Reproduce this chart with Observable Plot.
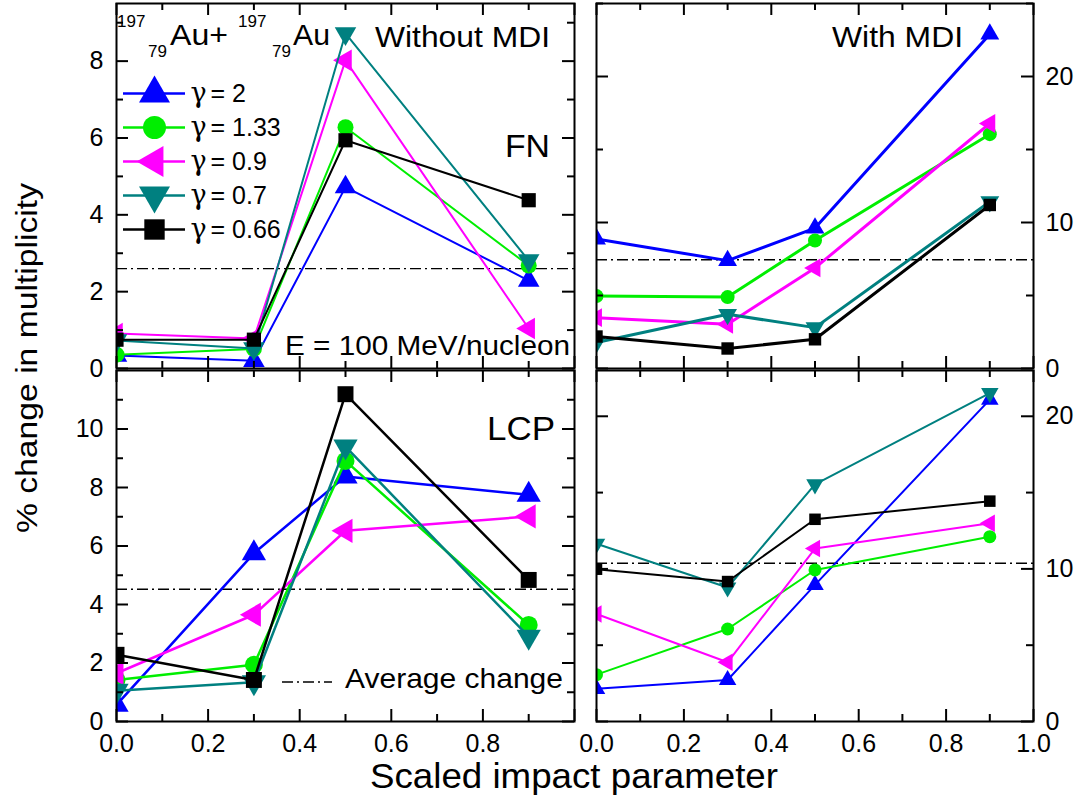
<!DOCTYPE html>
<html><head><meta charset="utf-8">
<script src="https://cdn.jsdelivr.net/npm/d3@7"></script>
<script src="https://cdn.jsdelivr.net/npm/@observablehq/plot@0.6"></script>
<style>
body{margin:0;background:#fff;font-family:"Liberation Sans",Arial,sans-serif;}
#root{position:relative;width:1086px;height:803px;overflow:hidden;background:#fff;}
.panel{position:absolute;}
.panel svg{overflow:visible;background:transparent;max-width:none;}
#overlay{position:absolute;left:0;top:0;pointer-events:none;}
</style></head><body><div id="root"></div>
<script>
// ---------------- data ----------------
const impact = [0, 0.3, 0.5, 0.9];
const gammaLabels = ["γ = 2", "γ = 1.33", "γ = 0.9", "γ = 0.7", "γ = 0.66"];
const seriesColors = ["#0000ff", "#00ee00", "#ff00ff", "#008080", "#000000"];

// FN, without MDI (rows: γ=2, 1.33, 0.9, 0.7, 0.66)
const fnWithout = [
  [0.34, 0.20, 4.72, 2.29],
  [0.36, 0.51, 6.28, 2.68],
  [0.91, 0.78, 8.02, 1.04],
  [0.73, 0.52, 8.72, 2.81],
  [0.75, 0.75, 5.94, 4.38]
];
// FN, with MDI
const fnWith = [
  [8.87, 7.39, 9.62, 22.9],
  [4.96, 4.89, 8.77, 16.05],
  [3.48, 3.03, 6.89, 16.78],
  [1.78, 3.71, 2.80, 11.43],
  [2.19, 1.37, 2.00, 11.20]
];
// LCP, without MDI
const lcpWithout = [
  [0.57, 5.75, 8.38, 7.75],
  [1.42, 1.94, 8.91, 3.30],
  [1.65, 3.65, 6.52, 7.01],
  [1.05, 1.34, 9.40, 2.90],
  [2.28, 1.42, 11.19, 4.84]
];
// LCP, with MDI
const lcpWith = [
  [2.14, 2.72, 8.95, 21.09],
  [3.07, 6.06, 9.93, 12.11],
  [7.04, 3.88, 11.33, 12.99],
  [11.65, 8.78, 15.54, 21.52],
  [9.98, 9.17, 13.25, 14.44]
];
// average change per panel: FN w/o, FN with, LCP w/o, LCP with
const averageChange = [2.6, 7.45, 4.52, 10.37];

const xMajorTicks = [0, 0.2, 0.4, 0.6, 0.8, 1.0];
const xMinorTicks = [0.1, 0.3, 0.5, 0.7, 0.9];
const xLabelsLeft = [0, 0.2, 0.4, 0.6, 0.8];
const xLabelsRight = [0, 0.2, 0.4, 0.6, 0.8, 1.0];
const yTicksFnWithout = [0, 2, 4, 6, 8];
const yMinorFnWithout = [1, 3, 5, 7, 9];
const yTicksLcpWithout = [0, 2, 4, 6, 8, 10];
const yMinorLcpWithout = [1, 3, 5, 7, 9, 11];
const yTicksWith = [0, 10, 20];
const yMinorFnWith = [5, 15, 25];
const yMinorLcpWith = [5, 15];

// ---------------- symbols ----------------
const sqrt3 = Math.sqrt(3);
const triUp = {draw(c, size) { const y = -Math.sqrt(size / (sqrt3 * 3)); c.moveTo(0, y * 2); c.lineTo(-sqrt3 * y, -y); c.lineTo(sqrt3 * y, -y); c.closePath(); }};
const triDown = {draw(c, size) { const y = -Math.sqrt(size / (sqrt3 * 3)); c.moveTo(0, -y * 2); c.lineTo(-sqrt3 * y, y); c.lineTo(sqrt3 * y, y); c.closePath(); }};
const triLeft = {draw(c, size) { const y = -Math.sqrt(size / (sqrt3 * 3)); c.moveTo(y * 2, 0); c.lineTo(-y, sqrt3 * y); c.lineTo(-y, -sqrt3 * y); c.closePath(); }};
const seriesSymbols = [triUp, d3.symbolCircle, triLeft, triDown, d3.symbolSquare];

const root = document.getElementById("root");
const FONT = "Liberation Sans, Arial, sans-serif";

function panel(cfg) {
  const {data, avg, yDomain, yMajor, yMinor, side, xLabels, r, sw, left, top, width, height, mL, mR, mT, mB} = cfg;
  const W = width - mL - mR, H = height - mT - mB;
  const marks = [];
  marks.push(Plot.ruleY([avg], {y: d => d, stroke: "#000", strokeWidth: 1.4, strokeDasharray: "11,4,2,4"}));
  data.forEach((vals, s) => {
    const pts = vals.map((v, i) => ({x: impact[i], y: v}));
    marks.push(Plot.line(pts, {x: "x", y: "y", stroke: seriesColors[s], strokeWidth: sw, clip: "frame"}));
    marks.push(Plot.dot(pts, {x: "x", y: "y", fill: seriesColors[s], stroke: "none", symbol: seriesSymbols[s], r, clip: "frame"}));
  });
  const MJ = 12, MN = 7;
  // inward ticks on all four sides
  marks.push(Plot.tickY(yMajor, {y: d => d, insetRight: W - MJ, strokeWidth: 2}));
  marks.push(Plot.tickY(yMajor, {y: d => d, insetLeft: W - MJ, strokeWidth: 2}));
  marks.push(Plot.tickY(yMinor, {y: d => d, insetRight: W - MN, strokeWidth: 2}));
  marks.push(Plot.tickY(yMinor, {y: d => d, insetLeft: W - MN, strokeWidth: 2}));
  marks.push(Plot.tickX(xMajorTicks, {x: d => d, insetTop: H - MJ, strokeWidth: 2}));
  marks.push(Plot.tickX(xMajorTicks, {x: d => d, insetBottom: H - MJ, strokeWidth: 2}));
  marks.push(Plot.tickX(xMinorTicks, {x: d => d, insetTop: H - MN, strokeWidth: 2}));
  marks.push(Plot.tickX(xMinorTicks, {x: d => d, insetBottom: H - MN, strokeWidth: 2}));
  marks.push(Plot.frame({stroke: "#000", strokeWidth: 2}));
  // y tick labels
  if (side === "left") {
    marks.push(Plot.text(yMajor, {y: d => d, frameAnchor: "left", dx: -13, textAnchor: "end", text: d => String(d), fontSize: 25, fill: "#000"}));
  } else {
    marks.push(Plot.text(yMajor, {y: d => d, frameAnchor: "right", dx: 12, textAnchor: "start", text: d => String(d), fontSize: 25, fill: "#000"}));
  }
  if (xLabels) {
    marks.push(Plot.text(xLabels, {x: d => d, frameAnchor: "bottom", dy: 30, text: d => d.toFixed(1), fontSize: 25, fill: "#000"}));
  }
  const svg = Plot.plot({
    width, height, marginLeft: mL, marginRight: mR, marginTop: mT, marginBottom: mB,
    x: {domain: [0, 1], axis: null},
    y: {domain: yDomain, axis: null},
    style: {fontFamily: FONT, background: "transparent", overflow: "visible"},
    marks
  });
  const div = document.createElement("div");
  div.className = "panel";
  div.style.left = left + "px"; div.style.top = top + "px";
  div.style.width = width + "px"; div.style.height = height + "px";
  div.appendChild(svg);
  root.appendChild(div);
}

panel({data: fnWithout, avg: averageChange[0], yDomain: [0, 9.5], yMajor: yTicksFnWithout, yMinor: yMinorFnWithout, side: "left", xLabels: null,
  r: 8, sw: 2, left: 0, top: 0, width: 590, height: 372, mL: 116, mR: 16, mT: 3, mB: 4});
panel({data: lcpWithout, avg: averageChange[2], yDomain: [0, 12], yMajor: yTicksLcpWithout, yMinor: yMinorLcpWithout, side: "left", xLabels: xLabelsLeft,
  r: 9, sw: 2.5, left: 0, top: 360, width: 590, height: 400, mL: 116, mR: 16, mT: 10, mB: 39});
panel({data: fnWith, avg: averageChange[1], yDomain: [0, 25], yMajor: yTicksWith, yMinor: yMinorFnWith, side: "right", xLabels: null,
  r: 7, sw: 3, left: 580, top: 0, width: 506, height: 372, mL: 16, mR: 53, mT: 3, mB: 4});
panel({data: lcpWith, avg: averageChange[3], yDomain: [0, 23], yMajor: yTicksWith, yMinor: yMinorLcpWith, side: "right", xLabels: xLabelsRight,
  r: 6.5, sw: 2, left: 580, top: 360, width: 506, height: 400, mL: 16, mR: 53, mT: 10, mB: 39});

// legend (drawn with Plot)
{
  const marks = [];
  gammaLabels.forEach((g, i) => {
    marks.push(Plot.ruleY([g], {y: d => d, x1: () => 0, x2: () => 1, stroke: seriesColors[i], strokeWidth: 2.5}));
    marks.push(Plot.dot([g], {y: d => d, x: () => 0.5, fill: seriesColors[i], stroke: "none", symbol: seriesSymbols[i], r: 11.5}));
  });
  marks.push(Plot.text(gammaLabels, {y: d => d, x: () => 1, dx: 5, textAnchor: "start", text: d => d.slice(0, 1), fontSize: 27, fontFamily: "DejaVu Serif, Liberation Serif, serif", fill: "#000"}));
  marks.push(Plot.text(gammaLabels, {y: d => d, x: () => 1, dx: 25, textAnchor: "start", text: d => d.slice(2), fontSize: 25, fill: "#000"}));
  const svg = Plot.plot({
    width: 200, height: 180, marginLeft: 7, marginRight: 131, marginTop: 23, marginBottom: 21,
    x: {domain: [0, 1], axis: null},
    y: {type: "point", domain: gammaLabels, padding: 0, axis: null},
    style: {fontFamily: FONT, background: "transparent", overflow: "visible"},
    marks
  });
  const div = document.createElement("div");
  div.className = "panel";
  div.style.left = "116px"; div.style.top = "70px";
  div.appendChild(svg);
  root.appendChild(div);
}

// annotations overlay
{
  const svg = d3.create("svg").attr("id", "overlay").attr("width", 1086).attr("height", 803)
    .attr("font-family", FONT);
  const t = (x, y, s, size, anchor = "start", len = null) => {
    const e = svg.append("text").attr("x", x).attr("y", y)
      .attr("font-size", size).attr("text-anchor", anchor).attr("fill", "#000").text(s);
    if (len) e.attr("textLength", len).attr("lengthAdjust", "spacingAndGlyphs");
    return e;
  };
  t(117, 27, "197", 17); t(148, 57, "79", 17); t(170, 45, "Au+", 30, "start", 58);
  t(238, 27, "197", 17); t(272, 57, "79", 17); t(293, 45, "Au", 30, "start", 37);
  t(375, 47, "Without MDI", 29, "start", 175);
  t(505, 157, "FN", 32, "start", 45);
  t(285, 355, "E = 100 MeV/nucleon", 27, "start", 285);
  t(832, 47, "With MDI", 30, "start", 131);
  t(487, 440, "LCP", 34, "start", 68);
  svg.append("line").attr("x1", 282).attr("x2", 332).attr("y1", 682).attr("y2", 682)
    .attr("stroke", "#000").attr("stroke-width", 1.4).attr("stroke-dasharray", "11,4,2,4");
  t(345, 688, "Average change", 28, "start", 218);
  t(370, 788, "Scaled impact parameter", 35, "start", 408);
  svg.append("text").attr("transform", "translate(37,533) rotate(-90)").attr("text-anchor", "start")
    .attr("font-size", 30).attr("fill", "#000").attr("textLength", 350).attr("lengthAdjust", "spacingAndGlyphs")
    .text("% change in multiplicity");
  root.appendChild(svg.node());
}
</script>
</body></html>
